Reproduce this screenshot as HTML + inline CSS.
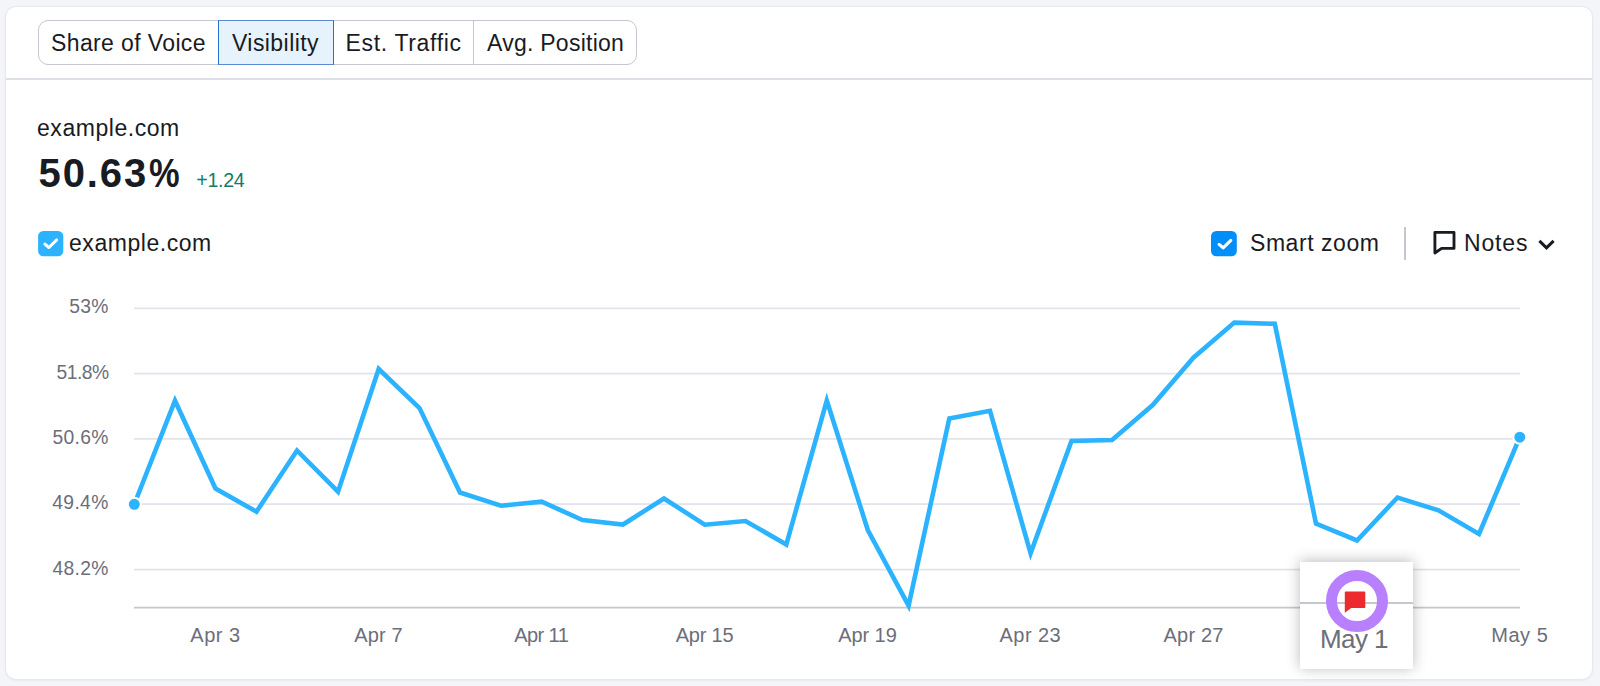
<!DOCTYPE html>
<html lang="en">
<head>
<meta charset="utf-8">
<title>Visibility</title>
<style>
html,body{margin:0;padding:0;}
body{width:1600px;height:686px;overflow:hidden;background:#f4f5f9;font-family:"Liberation Sans",sans-serif;color:#191b23;position:relative;}
.card{position:absolute;left:6px;top:7px;width:1586px;height:672px;background:#fff;border-radius:10px;box-shadow:0 0 0 1px #e8e9f0, 0 1px 3px rgba(25,27,35,.10);}
.abs{position:absolute;white-space:nowrap;}
.tabs{position:absolute;left:38px;top:20px;height:43px;border:1px solid #c4c7cf;border-radius:10px;width:597px;box-sizing:content-box;}
.tab{position:absolute;top:0.5px;height:43px;line-height:43px;font-size:23px;color:#191b23;white-space:nowrap;}
.sep{position:absolute;top:0;width:1px;height:43px;background:#c4c7cf;}
.hr{position:absolute;left:6px;top:78px;width:1586px;height:2px;background:#dddfe8;}
.ylab{position:absolute;left:40.7px;width:68px;text-align:right;font-size:19.3px;color:#6c6e79;line-height:24px;white-space:nowrap;}
.xlab{position:absolute;top:622.5px;width:120px;margin-left:-60px;text-align:center;font-size:20px;color:#6c6e79;line-height:24px;white-space:nowrap;}
</style>
</head>
<body>
<div class="card"></div>

<div class="tabs">
  <div class="tab" id="t1" style="left:12px;letter-spacing:0.38px;">Share of Voice</div>
  <div class="abs" style="left:179px;top:-1px;width:114px;height:43px;background:#e6f3fd;border:1px solid #5d88d3;border-left-color:#2472d2;border-right-color:#2472d2;"></div>
  <div class="tab" id="t2" style="left:193px;letter-spacing:0.43px;">Visibility</div>
  <div class="tab" id="t3" style="left:306.5px;letter-spacing:0.66px;">Est. Traffic</div>
  <div class="sep" style="left:434px;"></div>
  <div class="tab" id="t4" style="left:448px;letter-spacing:0.25px;">Avg. Position</div>
</div>
<div class="hr"></div>

<div class="abs" id="dom1" style="left:37px;top:114px;font-size:23px;line-height:28px;letter-spacing:0.55px;">example.com</div>
<div class="abs" id="big" style="left:38.5px;top:148.5px;font-size:40px;line-height:48px;font-weight:bold;letter-spacing:1.9px;">50.63<span style="display:inline-block;transform:scaleX(.86);transform-origin:0 50%;letter-spacing:0;margin-left:0.5px;">%</span></div>
<div class="abs" id="delta" style="left:196.3px;top:168px;font-size:19.6px;letter-spacing:-0.3px;line-height:24px;color:#0f7d67;">+1.24</div>

<svg class="abs" style="left:38px;top:230.8px;" width="26" height="26" viewBox="0 0 26 26"><rect x="0.1" y="0" width="25.2" height="25.2" rx="5.2" fill="#2bb3ff"/><path d="M6.9 13.1 L10.9 16.5 L18.6 9" fill="none" stroke="#fff" stroke-width="3.1" stroke-linecap="round" stroke-linejoin="round"/></svg>
<div class="abs" id="dom2" style="left:69px;top:229px;font-size:23px;line-height:28px;letter-spacing:0.55px;">example.com</div>

<svg class="abs" style="left:1211px;top:230.8px;" width="26" height="26" viewBox="0 0 26 26"><rect x="0" y="0" width="25.8" height="25.3" rx="5.3" fill="#008ff8"/><path d="M8.05 13.4 L12.15 16.8 L19.85 9.3" fill="none" stroke="#fff" stroke-width="3.1" stroke-linecap="round" stroke-linejoin="round"/></svg>
<div class="abs" id="smart" style="left:1250px;top:229px;font-size:23px;line-height:28px;letter-spacing:0.55px;">Smart zoom</div>
<div class="abs" style="left:1404px;top:227px;width:2px;height:33px;background:#c4c7cf;"></div>
<svg class="abs" style="left:1430px;top:229px;" width="28" height="30" viewBox="0 0 28 30"><path d="M4.9 3.4 H24 V19.4 H11.6 L4.9 24 Z" fill="none" stroke="#191b23" stroke-width="2.85" stroke-linejoin="round"/></svg>
<div class="abs" id="notes" style="left:1464px;top:229px;font-size:23px;line-height:28px;letter-spacing:0.85px;">Notes</div>
<svg class="abs" style="left:1536.3px;top:236.3px;" width="22" height="16" viewBox="0 0 22 16"><path d="M3.4 4.9 L10.5 11.9 L17.6 4.9" fill="none" stroke="#191b23" stroke-width="3" stroke-linejoin="miter"/></svg>

<div class="ylab" id="y1" style="top:295px;letter-spacing:0.3px;">53%</div>
<div class="ylab" id="y2" style="top:360.5px;letter-spacing:-0.5px;">51.8%</div>
<div class="ylab" id="y3" style="top:425.6px;letter-spacing:0.3px;">50.6%</div>
<div class="ylab" id="y4" style="top:491.2px;letter-spacing:0.35px;">49.4%</div>
<div class="ylab" id="y5" style="top:556.5px;letter-spacing:0.3px;">48.2%</div>

<div class="xlab" id="x1" style="left:215.5px;letter-spacing:0.5px;">Apr 3</div>
<div class="xlab" id="x2" style="left:378.6px;letter-spacing:0.15px;">Apr 7</div>
<div class="xlab" id="x3" style="left:541.25px;letter-spacing:-0.6px;">Apr 11</div>
<div class="xlab" id="x4" style="left:704.5px;letter-spacing:-0.2px;">Apr 15</div>
<div class="xlab" id="x5" style="left:867.5px;letter-spacing:-0.1px;">Apr 19</div>
<div class="xlab" id="x6" style="left:1030.4px;letter-spacing:0.45px;">Apr 23</div>
<div class="xlab" id="x7" style="left:1193.6px;letter-spacing:0.2px;">Apr 27</div>
<div class="xlab" id="x8" style="left:1519.8px;letter-spacing:0.5px;">May 5</div>

<svg class="abs" style="left:0;top:0;" width="1600" height="686" viewBox="0 0 1600 686">
  <g stroke="#e2e3eb" stroke-width="1.8">
    <line x1="134" x2="1520" y1="308.4" y2="308.4"/>
    <line x1="134" x2="1520" y1="373.6" y2="373.6"/>
    <line x1="134" x2="1520" y1="438.9" y2="438.9"/>
    <line x1="134" x2="1520" y1="504.2" y2="504.2"/>
    <line x1="134" x2="1520" y1="569.6" y2="569.6"/>
  </g>
  <line x1="134" x2="1520" y1="607.6" y2="607.6" stroke="#c4c7cf" stroke-width="1.8"/>
  <polyline points="134.2,504.5 175.0,400.7 215.5,488.5 256.5,511.7 297.0,450.5 338.0,491.7 378.7,369.0 419.5,408.0 460.0,492.5 501.0,505.7 541.7,501.7 582.5,520.0 623.0,524.5 664.0,498.5 704.7,524.7 745.5,521.0 786.3,544.5 826.8,400.6 867.8,530.0 908.6,605.6 949.3,418.5 990.0,410.8 1030.6,553.3 1071.5,441.0 1112.0,440.0 1152.7,405.0 1193.4,357.7 1234.3,322.6 1274.8,323.8 1316.0,523.6 1357.0,540.5 1397.5,497.5 1438.5,510.3 1479.0,534.0 1519.8,437.2" fill="none" stroke="#2bb3ff" stroke-width="4.6" stroke-linejoin="miter" stroke-linecap="butt"/>
  <circle cx="134.3" cy="504.3" r="6.5" fill="#2bb3ff" stroke="#fff" stroke-width="2"/>
  <circle cx="1519.8" cy="437.2" r="6.5" fill="#2bb3ff" stroke="#fff" stroke-width="2"/>
</svg>

<div class="abs" style="left:1300px;top:562px;width:113px;height:107px;background:#fff;box-shadow:0 -1px 13px rgba(25,27,35,.30);"></div>
<div class="abs" style="left:1300px;top:602px;width:113px;height:2px;background:#c4c7cf;"></div>
<div class="abs" style="left:1326px;top:570px;width:40px;height:40px;border:11px solid #b880ff;border-radius:50%;"></div>
<svg class="abs" style="left:1340px;top:588px;" width="30" height="30" viewBox="0 0 30 30"><path d="M5.6 3.4 H24.5 Q25.3 3.4 25.3 4.2 V19.2 Q25.3 20 24.5 20 H11.3 L4.8 24.8 V4.2 Q4.8 3.4 5.6 3.4 Z" fill="#ed2a2e"/></svg>
<div class="abs" id="may1" style="left:1297.4px;top:622.8px;width:113px;text-align:center;font-size:26px;letter-spacing:-0.6px;line-height:32px;color:#6c6e79;">May 1</div>

</body>
</html>
